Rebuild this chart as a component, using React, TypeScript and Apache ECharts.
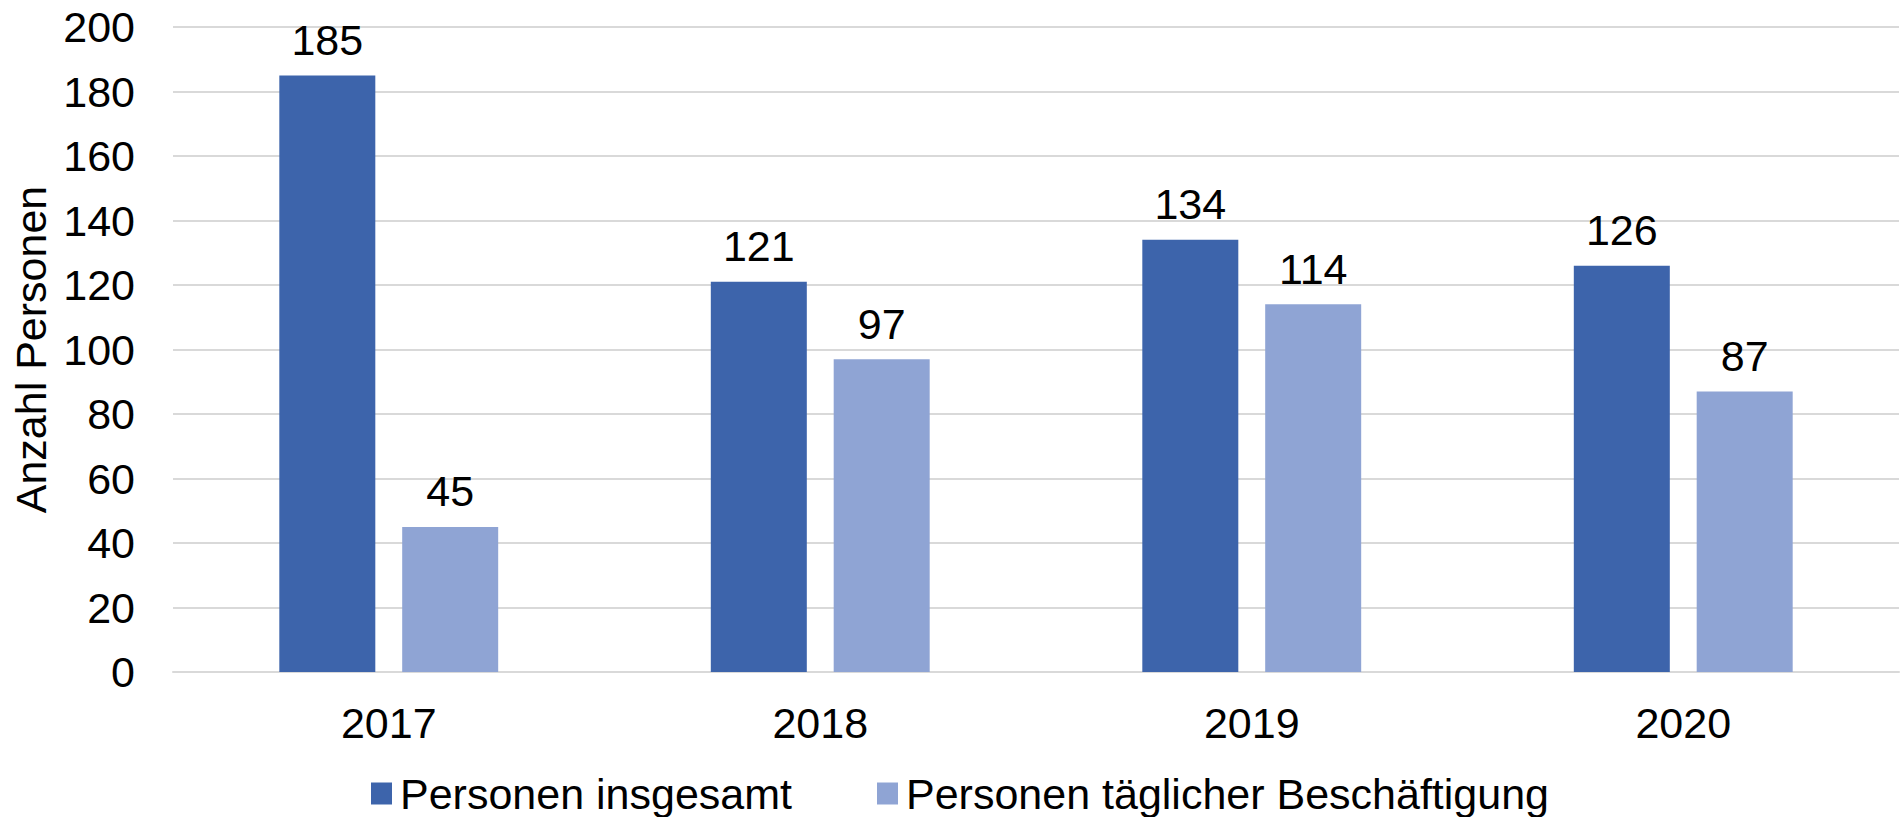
import React, { useEffect, useRef } from "react";
import * as echarts from "echarts";

const categories = ["2017", "2018", "2019", "2020"];
const seriesNames = ["Personen insgesamt", "Personen täglicher Beschäftigung"];
const personenInsgesamt = [185, 121, 134, 126];
const personenTaeglich = [45, 97, 114, 87];
const yAxisName = "Anzahl Personen";

const FONT = "'Liberation Sans', Arial, sans-serif";
const FS = 43;

export default function App() {
  const ref = useRef<HTMLDivElement>(null);
  useEffect(() => {
    if (!ref.current) return;
    const chart = echarts.init(ref.current, undefined, { renderer: "svg" });
    const label = {
      show: true,
      position: "top",
      distance: 14,
      color: "#000",
      fontSize: FS,
      fontFamily: FONT,
    };
    chart.setOption({
      animation: false,
      backgroundColor: "#fff",
      textStyle: { fontFamily: FONT },
      grid: { left: 173, right: 5, top: 27, bottom: 145, containLabel: false },
      legend: {
        left: 371,
        top: 772,
        padding: 0,
        icon: "rect",
        itemWidth: 21,
        itemHeight: 22,
        itemGap: 85,
        textStyle: { fontSize: FS, color: "#000", fontFamily: FONT, padding: [0, 0, 0, 3] },
        data: seriesNames,
      },
      xAxis: {
        type: "category",
        data: categories,
        axisLine: { lineStyle: { color: "#D9D9D9", width: 2 } },
        axisTick: { show: false },
        axisLabel: { fontSize: FS, color: "#000", margin: 29, fontFamily: FONT },
      },
      yAxis: {
        type: "value",
        min: 0,
        max: 200,
        interval: 20,
        name: yAxisName,
        nameLocation: "middle",
        nameGap: 116,
        nameTextStyle: { fontSize: FS, color: "#000", fontFamily: FONT },
        axisLine: { show: false },
        axisTick: { show: false },
        axisLabel: { fontSize: FS, color: "#000", margin: 38, fontFamily: FONT },
        splitLine: { lineStyle: { color: "#D9D9D9", width: 2 } },
      },
      series: [
        {
          name: seriesNames[0],
          type: "bar",
          data: personenInsgesamt,
          barWidth: 96,
          barGap: "28%",
          itemStyle: { color: "#3D64AB" },
          label,
        },
        {
          name: seriesNames[1],
          type: "bar",
          data: personenTaeglich,
          barWidth: 96,
          barGap: "28%",
          itemStyle: { color: "#8FA4D4" },
          label,
        },
      ],
    });
    return () => chart.dispose();
  }, []);
  return (
    <div
      ref={ref}
      style={{ position: "fixed", left: 0, top: 0, width: 1904, height: 817, background: "#fff" }}
    />
  );
}
